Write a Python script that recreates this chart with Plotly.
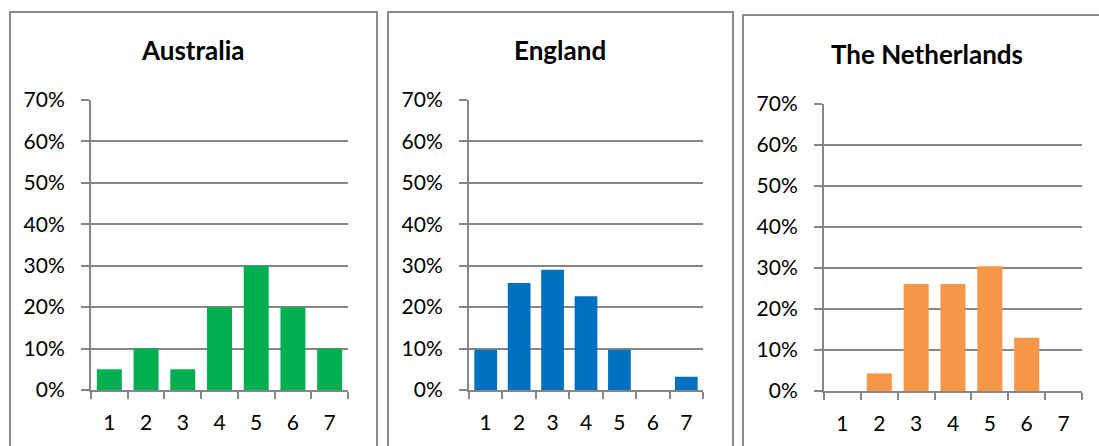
import plotly.graph_objects as go

categories = ["1", "2", "3", "4", "5", "6", "7"]
australia = [0.05, 0.10, 0.05, 0.20, 0.30, 0.20, 0.10]
england = [0.097, 0.258, 0.290, 0.226, 0.097, 0.0, 0.032]
netherlands = [0.0, 0.043, 0.261, 0.261, 0.304, 0.130, 0.0]
titles = ["Australia", "England", "The Netherlands"]
colors = ["#00B050", "#0070C0", "#F79646"]

W, H = 1099, 446
FONT = "Lato"
GRID = "#868686"

# pixel geometry of each panel: plot x0, x1, y(0%), y(70%), title centre, border box
panels = [
    dict(x0=91, x1=348, yb=390, yt=100, tx=193, ty=50, box=(10, 12, 377, 470)),
    dict(x0=469, x1=703, yb=390, yt=100, tx=560, ty=50, box=(388, 12, 733, 470)),
    dict(x0=824, x1=1082, yb=391, yt=104, tx=927, ty=54, box=(743, 15, 1120, 470)),
]
series = [australia, england, netherlands]

fig = go.Figure()
shapes = []
annotations = []
for i, (p, vals) in enumerate(zip(panels, series)):
    n = "" if i == 0 else str(i + 1)
    fig.add_trace(go.Bar(x=categories, y=vals, marker=dict(color=colors[i], line=dict(width=0)),
                         xaxis="x" + n, yaxis="y" + n, showlegend=False, hoverinfo="skip"))
    fig.update_layout(**{
        "xaxis" + n: dict(
            domain=[p["x0"] / W, p["x1"] / W], anchor="y" + n, type="category",
            range=[-0.5, 6.5], tickson="boundaries", ticks="outside", ticklen=7,
            tickcolor=GRID, tickwidth=2, showline=True, linecolor=GRID, linewidth=2,
            showgrid=False, zeroline=False, fixedrange=True, automargin=False,
            tickfont=dict(family=FONT, size=21, color="#000"), ticklabelstandoff=13,
        ),
        "yaxis" + n: dict(
            domain=[1 - p["yb"] / H, 1 - p["yt"] / H], anchor="x" + n,
            range=[0, 0.7], dtick=0.1, tick0=0, tickformat=".0%",
            ticks="outside", ticklen=8, tickcolor=GRID, tickwidth=2,
            showgrid=True, gridcolor=GRID, gridwidth=2, zeroline=False,
            showline=True, linecolor=GRID, linewidth=2, fixedrange=True, automargin=False,
            tickfont=dict(family=FONT, size=21, color="#000"), ticklabelstandoff=12,
        ),
    })
    bx0, by0, bx1, by1 = p["box"]
    shapes.append(dict(type="rect", xref="paper", yref="paper",
                       x0=bx0 / W, x1=bx1 / W, y0=1 - by1 / H, y1=1 - by0 / H,
                       line=dict(color="#8C8C8C", width=2), fillcolor="rgba(0,0,0,0)", layer="below"))
    annotations.append(dict(text="<b>" + titles[i] + "</b>", xref="paper", yref="paper",
                            x=p["tx"] / W, y=1 - p["ty"] / H, xanchor="center", yanchor="middle",
                            showarrow=False, font=dict(family=FONT, size=26, color="#000")))

fig.update_layout(
    width=W, height=H, margin=dict(l=0, r=0, t=0, b=0, autoexpand=False),
    paper_bgcolor="white", plot_bgcolor="white",
    bargap=0.32, shapes=shapes, annotations=annotations,
)

fig.write_html("out.html", config={"displayModeBar": False},
               post_script="document.body.style.margin='0';document.body.style.overflow='hidden';")
